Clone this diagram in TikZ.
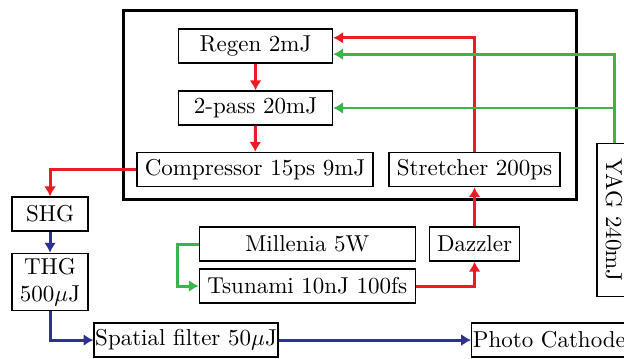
\documentclass[tikz,border=0pt]{standalone}
\usepackage{amsmath,amssymb}
\usepackage{tikz}
\usetikzlibrary{arrows.meta,positioning,calc}

\definecolor{lasred}{RGB}{237,28,36}
\definecolor{lasgreen}{RGB}{57,181,74}
\definecolor{lasblue}{RGB}{46,49,146}

\begin{document}
\begin{tikzpicture}[
    box/.style={draw, semithick, minimum height=0.52cm, inner ysep=2pt, align=center},
    tight/.style={box, inner xsep=0.5pt},
    redarr/.style={-{Latex[length=4.3pt,width=5.2pt]}, line width=1.3pt, lasred},
    greenarr/.style={-{Latex[length=4.3pt,width=5.2pt]}, line width=1.3pt, lasgreen},
    bluearr/.style={-{Latex[length=4.3pt,width=5.2pt]}, line width=1.3pt, lasblue}
]
\useasboundingbox (0,0) rectangle (9.54,-5.474);
\draw[line width=1.3pt] (1.881,-0.168) rectangle (8.807,-3.043);

\node[box, minimum width=2.355cm] (regen) at (3.907,-0.703) {Regen 2mJ};
\node[box, minimum width=2.355cm] (twopass) at (3.907,-1.651) {2-pass 20mJ};
\node[box] (comp) at (3.899,-2.592) {Compressor 15ps 9mJ};
\node[box] (stretch) at (7.255,-2.592) {Stretcher 200ps};
\node[box, rotate=-90, minimum width=2.34cm] (yag) at (9.388,-3.364) {YAG 240mJ};
\node[box, minimum width=1.162cm] (shg) at (0.765,-3.272) {SHG};
\node[box, minimum width=1.162cm] (thg) at (0.765,-4.312) {THG\\500$\mu$J};
\node[box, minimum width=3.303cm] (millenia) at (4.699,-3.731) {Millenia 5W};
\node[box, minimum width=3.303cm] (tsunami) at (4.699,-4.373) {Tsunami 10nJ 100fs};
\node[box] (dazzler) at (7.255,-3.731) {Dazzler};
\node[tight] (spatial) at (2.844,-5.199) {Spatial filter 50$\mu$J};
\node[tight, anchor=west] (cathode) at (7.202,-5.199) {Photo Cathode};

% oscillator -> stretcher -> amplifier
\draw[greenarr] (millenia.west) -- ++(-0.33,0) |- (tsunami.west);
\draw[redarr] (tsunami.east) -| (dazzler.south);
\draw[redarr] (dazzler) -- (stretch);
\draw[redarr] (stretch.north) |- ([yshift=0.125cm]regen.east);
\draw[redarr] (regen) -- (twopass);
\draw[redarr] (twopass) -- (comp);
\draw[redarr] (comp.west) -| (shg.north);

% pump
\draw[greenarr] (yag.west) |- ([yshift=-0.125cm]regen.east);
\draw[greenarr] (yag.west |- twopass.east) -- (twopass.east);

% UV
\draw[bluearr] (shg) -- (thg);
\draw[bluearr] (thg.south) |- (spatial.west);
\draw[bluearr] (spatial) -- (cathode);
\end{tikzpicture}
\end{document}
